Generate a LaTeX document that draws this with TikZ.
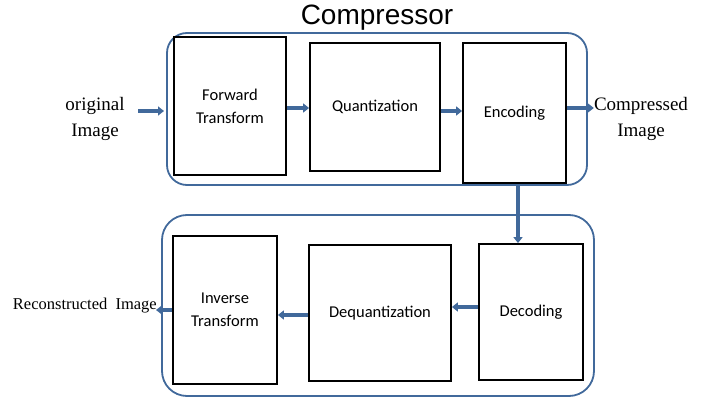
\documentclass[tikz,border=0pt]{standalone}
\usepackage{fontspec}
\setmainfont{Liberation Serif}
\newfontfamily\boxfont{Carlito}
\newfontfamily\titlefont{Liberation Sans}
\usetikzlibrary{arrows.meta}
\definecolor{lineblue}{RGB}{65,105,155}
\tikzset{
  blk/.style={draw=black, line width=1.8pt, inner sep=0pt, align=center,
    font=\boxfont\fontsize{16.5}{23}\selectfont},
  container/.style={draw=lineblue, line width=1.8pt},
  arr/.style={draw=lineblue, line width=3.8pt, -{Triangle[length=6pt,width=9pt]}},
  lbl/.style={align=center, inner sep=0pt, font=\fontsize{19}{26}\selectfont},
}
\begin{document}
\begin{tikzpicture}[x=1pt,y=-1pt]
\useasboundingbox (0,0) rectangle (705,398);
% containers
\draw[container, rounded corners=20pt] (167,33) rectangle (587,185);
\draw[container, rounded corners=25pt] (162,215) rectangle (594,396);
\node[font=\titlefont\fontsize{28}{30}\selectfont, inner sep=0pt] (title) at (377,18) {Compressor};
% blocks
\node[blk, minimum width=112pt, minimum height=138pt] (ft) at (230,106) {Forward\\Transform};
\node[blk, minimum width=130pt, minimum height=128pt] (q) at (375,107) {Quantization};
\node[blk, minimum width=103pt, minimum height=140pt] (e) at (514.5,113) {Encoding};
\node[blk, minimum width=104pt, minimum height=148pt] (inv) at (225,310) {Inverse\\Transform};
\node[blk, minimum width=142pt, minimum height=136pt] (dq) at (380,313) {Dequantization};
\node[blk, minimum width=104pt, minimum height=136pt] (dec) at (531,312) {Decoding};
% outside labels
\node[lbl] (orig) at (95,119) {original\\Image};
\node[lbl] (comp) at (641,119) {Compressed\\Image};
\node[lbl, font=\fontsize{16.5}{20}\selectfont, anchor=east] (rec) at (157,306) {Reconstructed\ \ Image};
\coordinate (origout) at (138,111);
\coordinate (ftin) at (164,111);
\coordinate (recin) at (156,310);
% arrows
\draw[arr] (origout) -- (ftin);
\draw[arr] (ft.east |- 0,108) -- (q.west |- 0,108);
\draw[arr] (q.east |- 0,111) -- (e.west |- 0,111);
\draw[arr] (e.east |- 0,108) -- (comp.west |- 0,108);
\draw[arr] ([xshift=3.5pt]e.south) -- ([xshift=-13pt]dec.north);
\draw[arr] (dec.west |- 0,307) -- (dq.east |- 0,307);
\draw[arr] (dq.west |- 0,315) -- (inv.east |- 0,315);
\draw[arr] (inv.west |- 0,310) -- (recin);
\end{tikzpicture}
\end{document}
